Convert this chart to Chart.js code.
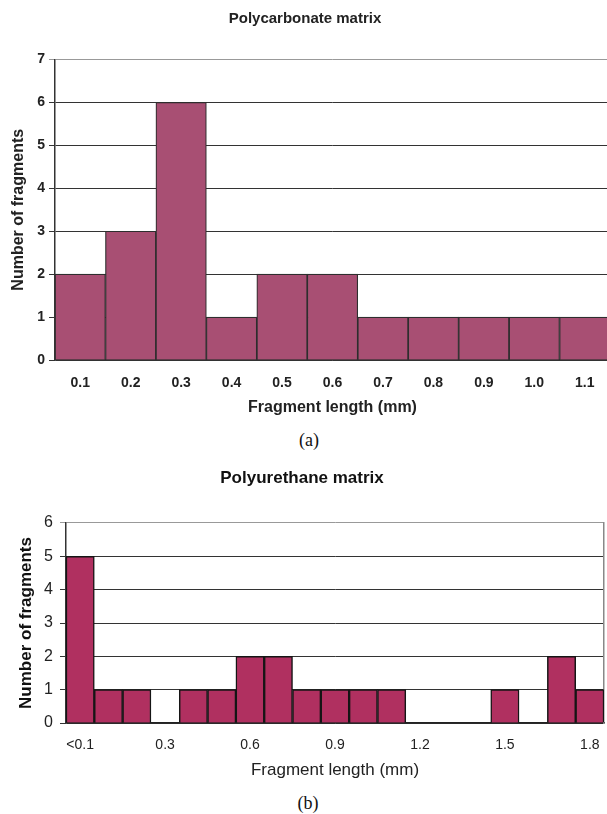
<!DOCTYPE html>
<html><head><meta charset="utf-8">
<script src="https://cdn.jsdelivr.net/npm/chart.js@4.4.1/dist/chart.umd.min.js"></script>
<style>
html,body{margin:0;padding:0;overflow:hidden;background:#fff;width:607px;height:814px;}
.cap{position:absolute;width:40px;text-align:center;font-family:'Liberation Serif','Times New Roman',serif;font-size:18px;color:#111;line-height:20px;}
</style></head><body>
<canvas id="a" width="612" height="420" style="position:absolute;left:0;top:0;width:612px;height:420px"></canvas>
<canvas id="b" width="607" height="323" style="position:absolute;left:0;top:460px;width:607px;height:323px"></canvas>
<div class="cap" style="left:289px;top:430px">(a)</div>
<div class="cap" style="left:288px;top:793px">(b)</div>
<script>
// Polycarbonate matrix
const pcCategories = ['0.1','0.2','0.3','0.4','0.5','0.6','0.7','0.8','0.9','1.0','1.1'];
const pcCounts = [2,3,6,1,2,2,1,1,1,1,1];
const pcYMax = 7;
// Polyurethane matrix
const puCategories = ['<0.1','0.1','0.2','0.3','0.4','0.5','0.6','0.7','0.8','0.9','1.0','1.1','1.2','1.3','1.4','1.5','1.6','1.7','1.8'];
const puCounts = [5,1,1,0,1,1,2,2,1,1,1,1,0,0,0,1,0,2,1];
const puYMax = 6;
const puTickEvery = 3;

Chart.defaults.font.family = "'Liberation Sans', Arial, Helvetica, sans-serif";
Chart.defaults.color = '#222';

function gridColor(max){
  return ctx => (ctx.tick && ctx.tick.value === max) ? '#999' : '#333';
}

new Chart(document.getElementById('a'), {
  type:'bar',
  data:{labels:pcCategories, datasets:[{data:pcCounts, backgroundColor:'#A84F73', borderColor:'#2e2e2e', borderWidth:1.2, categoryPercentage:1, barPercentage:1}]},
  options:{
    responsive:false, animation:false, devicePixelRatio:1,
    layout:{padding:{left:0,right:2,top:0,bottom:0}},
    plugins:{
      legend:{display:false}, tooltip:{enabled:false},
      title:{display:true, text:'Polycarbonate matrix', color:'#222', font:{size:15,weight:'bold'}, padding:{top:10,bottom:31.5}}
    },
    scales:{
      x:{
        grid:{display:false, drawTicks:false},
        border:{color:'#333', width:1.5},
        ticks:{color:'#222', font:{size:14,weight:'bold'}, padding:14.6, maxRotation:0, autoSkip:false},
        title:{display:true, text:'Fragment length (mm)', color:'#222', font:{size:16,weight:'bold'}, padding:{top:0,bottom:2.4}},
        afterFit(s){ s.height = 60; s.paddingLeft = 0; s.paddingRight = 0; }
      },
      y:{
        min:0, max:pcYMax,
        ticks:{stepSize:1, color:'#222', font:{size:14,weight:'bold'}, padding:4},
        grid:{color:gridColor(pcYMax), lineWidth:1, tickLength:6},
        border:{color:'#333', width:1.5},
        title:{display:true, text:'Number of fragments', color:'#222', font:{size:16,weight:'bold'}, padding:{top:9.4,bottom:0}},
        afterFit(s){ s.width = 55; }
      }
    }
  }
});

new Chart(document.getElementById('b'), {
  type:'bar',
  data:{labels:puCategories, datasets:[{data:puCounts, backgroundColor:'#B03060', borderColor:'#151515', borderWidth:1.5, categoryPercentage:1, barPercentage:1}]},
  options:{
    responsive:false, animation:false, devicePixelRatio:1,
    layout:{padding:{left:0,right:3,top:0,bottom:0}},
    plugins:{
      legend:{display:false}, tooltip:{enabled:false},
      title:{display:true, text:'Polyurethane matrix', color:'#111', font:{size:17,weight:'bold'}, padding:{top:7.8,bottom:34.8}}
    },
    scales:{
      x:{
        grid:{display:false, drawTicks:false},
        border:{color:'#222', width:1.5},
        ticks:{color:'#222', font:{size:14}, padding:13.6, maxRotation:0, autoSkip:false,
          callback(v, i){ return i % puTickEvery === 0 ? puCategories[i] : ''; }},
        title:{display:true, text:'Fragment length (mm)', color:'#222', font:{size:17}, padding:{top:0,bottom:2.8}},
        afterFit(s){ s.height = 60; s.paddingLeft = 0; s.paddingRight = 0; }
      },
      y:{
        min:0, max:puYMax,
        ticks:{stepSize:1, color:'#222', font:{size:16}, padding:7},
        grid:{color:gridColor(puYMax), lineWidth:1, tickLength:6},
        border:{color:'#333', width:1.5},
        title:{display:true, text:'Number of fragments', color:'#111', font:{size:17,weight:'bold'}, padding:{top:16.3,bottom:0}},
        afterFit(s){ s.width = 66; }
      },
      y2:{
        position:'right', display:true, min:0, max:puYMax,
        grid:{display:false, drawTicks:false},
        ticks:{display:false},
        border:{color:'#888', width:1.5},
        afterFit(s){ s.width = 0; s.paddingTop = 0; s.paddingBottom = 0; }
      }
    }
  }
});
</script>
</body></html>
